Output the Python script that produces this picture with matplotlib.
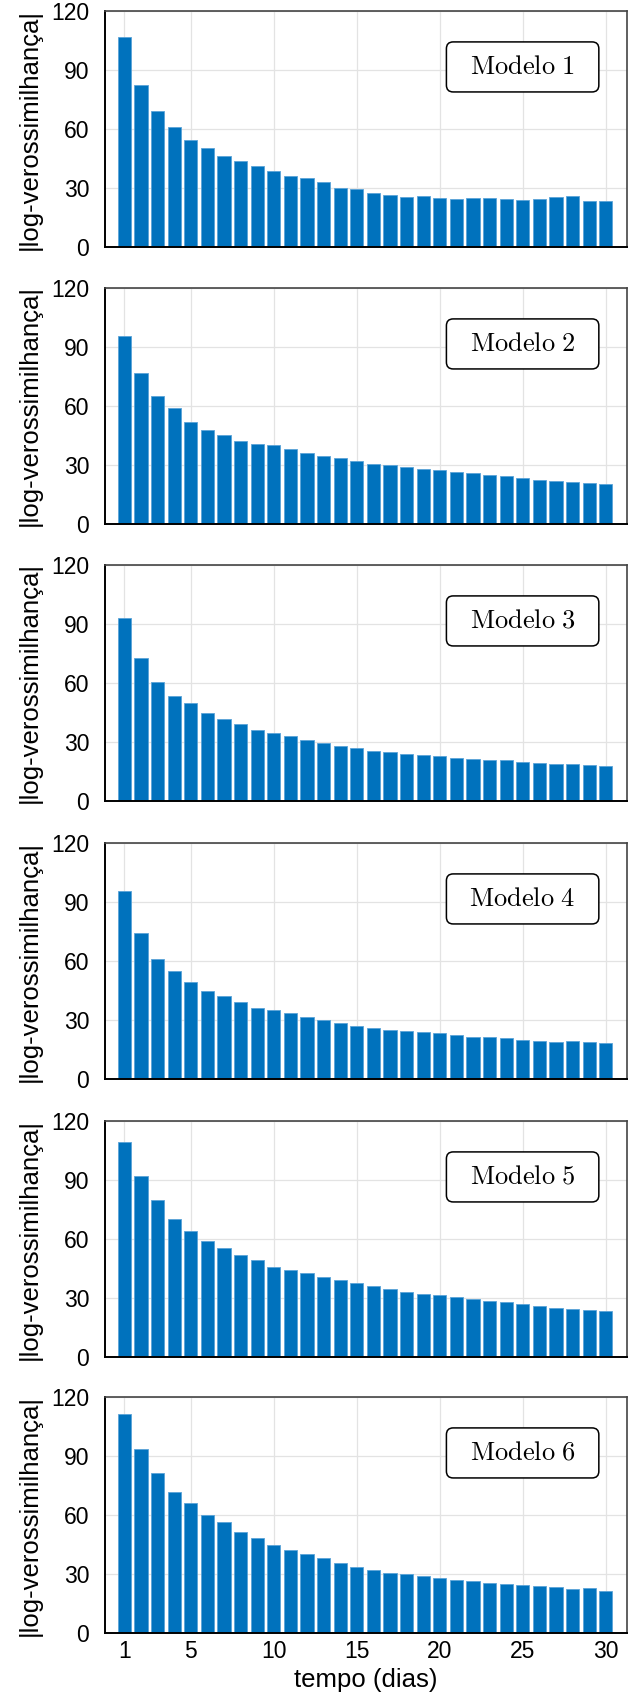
import numpy as np
import matplotlib
matplotlib.use('Agg')
import matplotlib.pyplot as plt
from matplotlib.patches import FancyBboxPatch

plt.rcParams['mathtext.fontset'] = 'cm'
plt.rcParams['font.family'] = ['Liberation Sans', 'DejaVu Sans']

dias = np.arange(1, 31)
modelos = ['Modelo 1', 'Modelo 2', 'Modelo 3', 'Modelo 4', 'Modelo 5', 'Modelo 6']

# valores (|log-verossimilhanca| por dia)
m1 = [106.6, 82.3, 68.9, 60.8, 54.5, 50.1, 46.4, 43.8, 41.1, 38.8,
      36.2, 34.9, 33.2, 30.1, 29.3, 27.6, 26.4, 25.4, 26.1, 24.7,
      24.4, 25.0, 24.9, 24.5, 23.9, 24.5, 25.2, 25.7, 23.2, 23.4]
m2 = [95.7, 76.7, 65.2, 58.8, 52.1, 47.7, 45.1, 42.1, 40.7, 40.1,
      37.9, 36.0, 34.8, 33.5, 31.8, 30.4, 29.9, 29.2, 28.2, 27.4,
      26.4, 25.7, 25.0, 24.2, 23.3, 22.6, 22.1, 21.3, 21.0, 20.3]
m3 = [93.0, 72.7, 60.5, 53.4, 49.7, 44.6, 41.6, 39.2, 36.0, 34.6,
      33.0, 31.1, 29.6, 28.1, 26.9, 25.5, 24.7, 24.0, 23.5, 22.8,
      22.0, 21.6, 21.0, 20.6, 19.6, 19.3, 18.6, 18.8, 18.4, 17.9]
m4 = [95.6, 74.2, 61.0, 54.9, 49.5, 44.7, 42.4, 39.3, 36.3, 35.1,
      33.6, 31.4, 29.8, 28.5, 27.1, 25.8, 24.9, 24.2, 23.7, 23.2,
      22.2, 21.2, 21.4, 20.7, 19.8, 19.5, 18.8, 19.2, 19.0, 18.3]
m5 = [109.2, 92.2, 79.7, 70.3, 63.9, 59.2, 55.6, 52.0, 49.2, 45.9,
      44.1, 42.5, 40.5, 39.0, 37.5, 36.1, 34.6, 32.9, 32.2, 31.4,
      30.3, 29.5, 28.5, 27.8, 27.1, 25.9, 25.1, 24.2, 23.9, 23.4]
m6 = [111.2, 93.7, 81.5, 71.7, 66.0, 60.2, 56.4, 51.2, 48.5, 44.9,
      42.4, 40.1, 37.9, 35.8, 33.8, 32.1, 30.6, 30.0, 28.8, 28.1,
      26.9, 26.3, 25.6, 25.1, 24.4, 23.7, 23.4, 22.6, 23.1, 21.4]
valores = [m1, m2, m3, m4, m5, m6]

xticks = [1, 5, 10, 15, 20, 25, 30]
yticks = [0, 30, 60, 90, 120]

W, H = 643, 1702
fig = plt.figure(figsize=(W / 100, H / 100), dpi=100)

left, ax_w = 104.5, 522
tops = [11, 288, 565, 843, 1121, 1397]
ax_h = 236

for i, (nome, vals) in enumerate(zip(modelos, valores)):
    ax = fig.add_axes([left / W, 1 - (tops[i] + ax_h) / H, ax_w / W, ax_h / H])
    ax.bar(dias, vals, width=0.8, color='#0072BD', edgecolor='#5aa3d8', linewidth=0.6, zorder=2)
    ax.set_xlim(-0.2, 31.25)
    ax.set_ylim(0, 120)
    ax.set_xticks(xticks)
    ax.set_yticks(yticks)
    ax.grid(True, color='#e3e3e3', linewidth=0.9)
    ax.set_axisbelow(True)
    ax.tick_params(axis='y', length=0, pad=11, labelsize=16.5)
    ax.tick_params(axis='x', length=0, pad=5, labelsize=16.5)
    if i < 5:
        ax.set_xticklabels([])
    else:
        ax.set_xlabel('tempo (dias)', fontsize=18.5, labelpad=4)
    ax.set_ylabel('|log-verossimilhança|', fontsize=18.5, labelpad=7)
    for s in ['left', 'bottom']:
        ax.spines[s].set_color('black')
        ax.spines[s].set_linewidth(1.4)
    for s in ['top', 'right']:
        ax.spines[s].set_color('#444444')
        ax.spines[s].set_linewidth(1.2)

    box = FancyBboxPatch((0.655, 0.657), 0.292, 0.212, transform=ax.transAxes,
                         boxstyle='round,pad=0,rounding_size=0.013', mutation_aspect=ax_w / ax_h,
                         facecolor='white', edgecolor='black', linewidth=1.1, zorder=5)
    ax.add_patch(box)
    ax.text(0.801, 0.763, r'$\mathrm{' + nome.replace(' ', r'\ ') + '}$', transform=ax.transAxes,
            ha='center', va='center', fontsize=19, zorder=6)

fig.savefig('out.png', dpi=100)
